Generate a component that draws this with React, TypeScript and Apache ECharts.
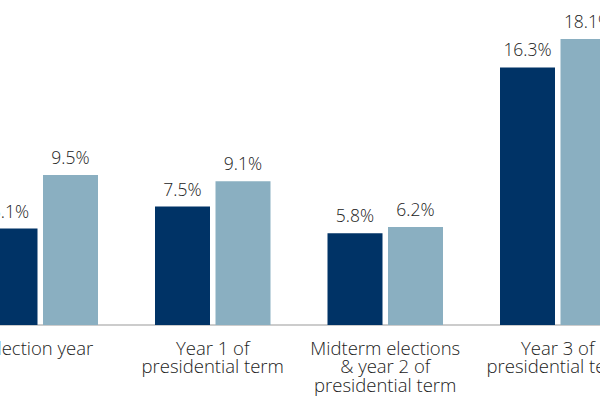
import React, { useEffect, useRef } from "react";
import * as echarts from "echarts";

const categories = [
  "Election year",
  "Year 1 of\npresidential term",
  "Midterm elections\n& year 2 of\npresidential term",
  "Year 3 of\npresidential term",
];
const seriesAName = "Average";
const seriesBName = "Median";
const seriesA = [6.1, 7.5, 5.8, 16.3];
const seriesB = [9.5, 9.1, 6.2, 18.1];

export default function App() {
  const ref = useRef<HTMLDivElement>(null);
  useEffect(() => {
    document.body.style.margin = "0";
    document.body.style.overflow = "hidden";
    const chart = echarts.init(ref.current!, null, { renderer: "svg" });
    const labelStyle = {
      show: true,
      position: "top" as const,
      distance: 9,
      formatter: (p: any) => p.value.toFixed(1) + "%",
      fontFamily: "Open Sans",
      fontWeight: 300,
      fontSize: 17.5,
      color: "#222222",
    };
    chart.setOption({
      animation: false,
      backgroundColor: "#ffffff",
      grid: { left: 0, right: 0, top: 9, bottom: 75 },
      xAxis: {
        type: "category",
        data: categories,
        axisLine: { show: true, lineStyle: { color: "#cccccc", width: 2 } },
        axisTick: { show: false },
        axisLabel: {
          interval: 0,
          margin: 13,
          fontFamily: "Open Sans",
          fontWeight: 300,
          fontSize: 18.5,
          lineHeight: 18.5,
          color: "#222222",
        },
      },
      yAxis: {
        type: "value",
        min: 0,
        max: 20,
        show: false,
        splitLine: { show: false },
      },
      series: [
        {
          name: seriesAName,
          type: "bar",
          data: seriesA,
          barWidth: 55,
          barGap: "10%",
          itemStyle: { color: "#003366" },
          label: labelStyle,
        },
        {
          name: seriesBName,
          type: "bar",
          data: seriesB,
          barWidth: 55,
          barGap: "10%",
          itemStyle: { color: "#8aafc1" },
          label: labelStyle,
        },
      ],
    });
    return () => chart.dispose();
  }, []);
  return (
    <div
      ref={ref}
      style={{ position: "absolute", left: -46, top: 0, width: 690, height: 400 }}
    />
  );
}
